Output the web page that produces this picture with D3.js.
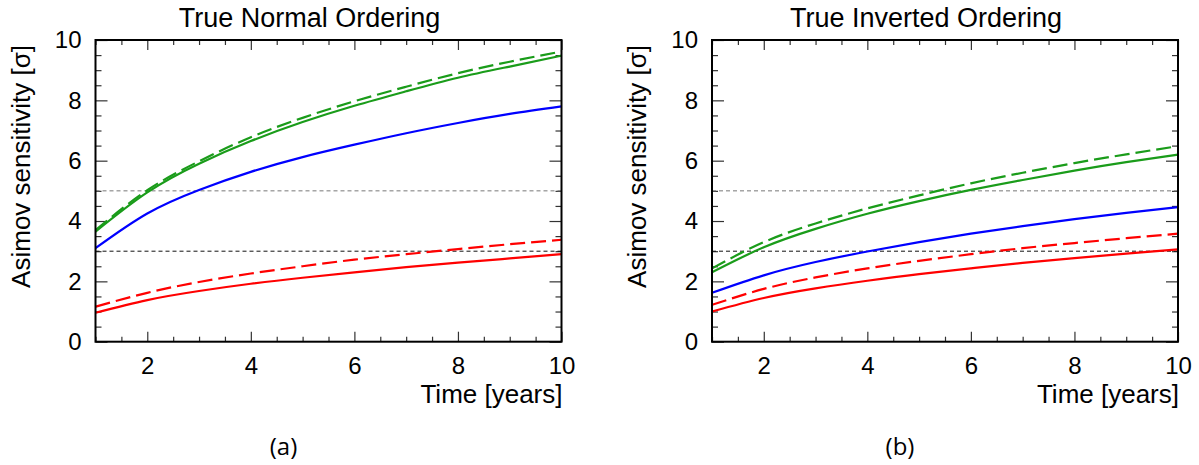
<!DOCTYPE html>
<html>
<head>
<meta charset="utf-8">
<script src="https://cdn.jsdelivr.net/npm/d3@7"></script>
<style>
  html, body { margin: 0; padding: 0; background: #fff; }
  svg { display: block; }
  text { font-family: "Liberation Sans", Arial, Helvetica, sans-serif; fill: #000; }
  .caption { font-family: "Open Sans", "DejaVu Sans", sans-serif; }
</style>
</head>
<body>
<svg id="chart" width="1199" height="465"></svg>
<script>
// Exposure time in years
const years = [1, 2, 3, 4, 5, 6, 7, 8, 9, 10];

// Tick values
const xMajorTicks = [2, 4, 6, 8, 10];
const yMajorTicks = [0, 2, 4, 6, 8, 10];
const thresholds = [3, 5];

// True normal ordering
const noGreenSolid  = [3.65, 4.95, 5.90, 6.65, 7.28, 7.82, 8.30, 8.75, 9.12, 9.48];
const noGreenDashed = [3.70, 5.02, 5.98, 6.78, 7.42, 7.97, 8.45, 8.90, 9.28, 9.62];
const noBlue        = [3.10, 4.25, 5.03, 5.63, 6.12, 6.53, 6.91, 7.25, 7.55, 7.80];
const noRedSolid    = [0.96, 1.38, 1.68, 1.92, 2.12, 2.30, 2.47, 2.62, 2.76, 2.90];
const noRedDashed   = [1.16, 1.62, 1.98, 2.26, 2.50, 2.72, 2.90, 3.07, 3.23, 3.38];

// True inverted ordering
const ioGreenSolid  = [2.30, 3.13, 3.74, 4.24, 4.66, 5.03, 5.36, 5.67, 5.95, 6.20];
const ioGreenDashed = [2.43, 3.30, 3.92, 4.42, 4.85, 5.25, 5.60, 5.92, 6.21, 6.48];
const ioBlue        = [1.62, 2.20, 2.64, 2.99, 3.30, 3.58, 3.83, 4.06, 4.27, 4.46];
const ioRedSolid    = [1.00, 1.45, 1.77, 2.02, 2.24, 2.43, 2.61, 2.77, 2.92, 3.06];
const ioRedDashed   = [1.22, 1.75, 2.13, 2.43, 2.68, 2.90, 3.10, 3.27, 3.43, 3.58];

const titles = ["True Normal Ordering", "True Inverted Ordering"];
const captions = ["(a)", "(b)"];
const xTitle = "Time [years]";
const yTitle = "Asimov sensitivity [\u03c3]";

const GREEN = "#1a9c1a", BLUE = "#0000ff", RED = "#ff0000";

const panels = [
  { left: 95.5, title: titles[0], caption: captions[0], series: [
      { v: noRedSolid, c: RED, dash: null },
      { v: noRedDashed, c: RED, dash: "15,6" },
      { v: noBlue, c: BLUE, dash: null },
      { v: noGreenSolid, c: GREEN, dash: null },
      { v: noGreenDashed, c: GREEN, dash: "15,6" } ] },
  { left: 712, title: titles[1], caption: captions[1], series: [
      { v: ioRedSolid, c: RED, dash: null },
      { v: ioRedDashed, c: RED, dash: "15,6" },
      { v: ioBlue, c: BLUE, dash: null },
      { v: ioGreenSolid, c: GREEN, dash: null },
      { v: ioGreenDashed, c: GREEN, dash: "15,6" } ] }
];

const plotW = 466, plotTop = 40, plotBottom = 341.7;
const svg = d3.select("#chart");
svg.append("rect").attr("width", 1199).attr("height", 465).attr("fill", "#fff");

const minorX = d3.range(1, 10.01, 0.5).filter(v => v % 2 !== 0);
const minorY = d3.range(0, 10.01, 0.5).filter(v => v % 2 !== 0);

panels.forEach(p => {
  const x = d3.scaleLinear().domain([1, 10]).range([p.left, p.left + plotW]);
  const y = d3.scaleLinear().domain([0, 10]).range([plotBottom, plotTop]);
  const g = svg.append("g");

  const styleAxis = sel => {
    sel.select(".domain").remove();
    sel.selectAll(".tick line").attr("stroke", "#333").attr("stroke-width", 1.2);
    sel.selectAll("text").attr("font-size", 24).attr("font-family", "'Liberation Sans', Arial, sans-serif").attr("fill", "#000");
  };

  // Bottom axis: labelled major ticks plus minor ticks, all pointing inward
  g.append("g").attr("transform", `translate(0,${plotBottom})`)
    .call(d3.axisBottom(x).tickValues(xMajorTicks).tickSize(-10).tickPadding(15).tickFormat(d3.format("d")))
    .call(styleAxis);
  g.append("g").attr("transform", `translate(0,${plotBottom})`)
    .call(d3.axisBottom(x).tickValues(minorX).tickSize(-5).tickFormat(""))
    .call(styleAxis);
  // Top axis
  g.append("g").attr("transform", `translate(0,${plotTop})`)
    .call(d3.axisTop(x).tickValues(xMajorTicks).tickSize(-10).tickFormat(""))
    .call(styleAxis);
  g.append("g").attr("transform", `translate(0,${plotTop})`)
    .call(d3.axisTop(x).tickValues(minorX).tickSize(-5).tickFormat(""))
    .call(styleAxis);
  // Left axis
  g.append("g").attr("transform", `translate(${p.left},0)`)
    .call(d3.axisLeft(y).tickValues(yMajorTicks).tickSize(-12).tickPadding(14).tickFormat(d3.format("d")))
    .call(styleAxis);
  g.append("g").attr("transform", `translate(${p.left},0)`)
    .call(d3.axisLeft(y).tickValues(minorY).tickSize(-6).tickFormat(""))
    .call(styleAxis);
  // Right axis
  g.append("g").attr("transform", `translate(${p.left + plotW},0)`)
    .call(d3.axisRight(y).tickValues(yMajorTicks).tickSize(-12).tickFormat(""))
    .call(styleAxis);
  g.append("g").attr("transform", `translate(${p.left + plotW},0)`)
    .call(d3.axisRight(y).tickValues(minorY).tickSize(-6).tickFormat(""))
    .call(styleAxis);

  // 3 sigma and 5 sigma reference lines
  g.selectAll("line.thr").data(thresholds).enter().append("line")
    .attr("class", "thr")
    .attr("x1", x(1)).attr("x2", x(10))
    .attr("y1", d => y(d)).attr("y2", d => y(d))
    .attr("stroke", d => d === 5 ? "#777" : "#111")
    .attr("stroke-width", 1)
    .attr("stroke-dasharray", "4,3");

  // Sensitivity curves
  const line = d3.line().x((d, i) => x(years[i])).y(d => y(d)).curve(d3.curveNatural);
  g.selectAll("path.curve").data(p.series).enter().append("path")
    .attr("class", "curve")
    .attr("d", s => line(s.v))
    .attr("fill", "none")
    .attr("stroke", s => s.c)
    .attr("stroke-width", 2.2)
    .attr("stroke-dasharray", s => s.dash);

  // Frame
  g.append("rect")
    .attr("x", x(1)).attr("y", y(10))
    .attr("width", x(10) - x(1)).attr("height", y(0) - y(10))
    .attr("fill", "none").attr("stroke", "#000").attr("stroke-width", 2);

  // Titles
  g.append("text").attr("x", p.left + 214).attr("y", 27)
    .attr("text-anchor", "middle").attr("font-size", 27).text(p.title);
  g.append("text").attr("x", x(10) + 1).attr("y", 403)
    .attr("text-anchor", "end").attr("font-size", 26).text(xTitle);
  g.append("text").attr("transform", `translate(${p.left - 66},45) rotate(-90)`)
    .attr("text-anchor", "end").attr("font-size", 26).text(yTitle);
  g.append("text").attr("class", "caption")
    .attr("x", p.left + 188).attr("y", 455)
    .attr("text-anchor", "middle").attr("font-size", 24).text(p.caption);
});
</script>
</body>
</html>
